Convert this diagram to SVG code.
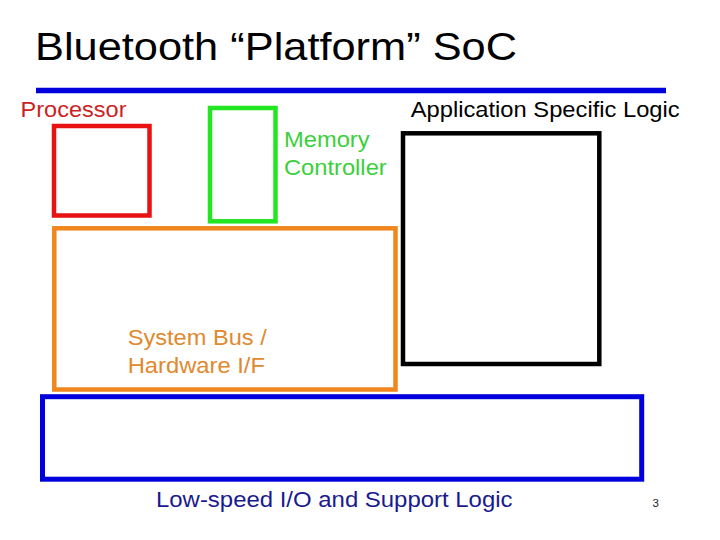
<svg xmlns="http://www.w3.org/2000/svg" width="720" height="540" viewBox="0 0 720 540">
<style>
text{font-family:"Liberation Sans",Arial,sans-serif;}
.lbl{font-size:22px;}
.box{fill:none;stroke-width:4.5;}
</style>
<rect width="720" height="540" fill="#fff"/>
<text x="35" y="59.5" font-size="39.5" fill="#000" textLength="482" lengthAdjust="spacingAndGlyphs">Bluetooth “Platform” SoC</text>
<line x1="36" y1="90.5" x2="666" y2="90.5" stroke="#0000dd" stroke-width="5.5"/>
<g id="processor">
<text class="lbl" x="20.5" y="116.7" fill="#cc1f1f" textLength="106" lengthAdjust="spacingAndGlyphs">Processor</text>
<rect class="box" x="54" y="126" width="95.5" height="89.5" stroke="#e81212"/>
</g>
<g id="memory-controller">
<rect class="box" x="210" y="108" width="65.5" height="113.3" stroke="#22e622"/>
<text class="lbl" x="284" y="147.3" fill="#3ccf3c" textLength="85.6" lengthAdjust="spacingAndGlyphs">Memory</text>
<text class="lbl" x="284" y="175" fill="#3ccf3c" textLength="102.7" lengthAdjust="spacingAndGlyphs">Controller</text>
</g>
<g id="application-logic">
<text class="lbl" x="410.7" y="116.7" fill="#000" textLength="269" lengthAdjust="spacingAndGlyphs">Application Specific Logic</text>
<rect class="box" x="403" y="133.3" width="196.3" height="230.7" stroke="#000"/>
</g>
<g id="system-bus">
<rect class="box" x="54.3" y="228.3" width="341.2" height="161.2" stroke="#f0861e"/>
<text class="lbl" x="127.7" y="345" fill="#e0892e" textLength="139" lengthAdjust="spacingAndGlyphs">System Bus /</text>
<text class="lbl" x="127.7" y="373.3" fill="#e0892e" textLength="137.3" lengthAdjust="spacingAndGlyphs">Hardware I/F</text>
</g>
<g id="low-speed-io">
<rect x="42.5" y="396.7" width="599.2" height="82.5" fill="none" stroke="#0000dd" stroke-width="5"/>
<text class="lbl" x="156" y="506.5" fill="#1a1a8f" textLength="356.5" lengthAdjust="spacingAndGlyphs">Low-speed I/O and Support Logic</text>
</g>
<g id="connectors"></g>
<text x="652.5" y="506.7" font-size="11.5" fill="#222">3</text>
</svg>
